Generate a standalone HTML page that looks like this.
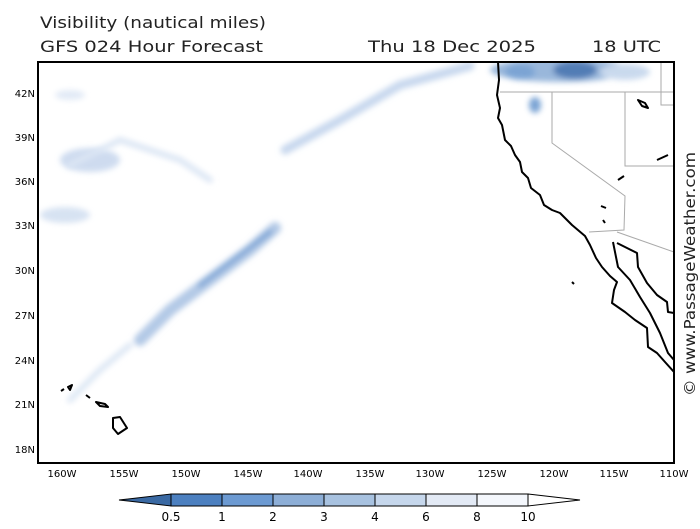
<!DOCTYPE html>
<html><head><style>
body{margin:0;background:#fff;width:700px;height:525px;overflow:hidden;font-family:"DejaVu Sans","Liberation Sans",sans-serif}
</style></head><body>
<svg width="700" height="525" xmlns="http://www.w3.org/2000/svg" font-family="DejaVu Sans, Liberation Sans, sans-serif">
<defs><filter id="b" x="-50%" y="-50%" width="200%" height="200%"><feGaussianBlur stdDeviation="3"/></filter>
<clipPath id="c"><rect x="38" y="62" width="636" height="401"/></clipPath></defs>
<g font-size="16" fill="#222">
<text x="40" y="28" textLength="226" lengthAdjust="spacingAndGlyphs">Visibility (nautical miles)</text>
<text x="40" y="52" textLength="223" lengthAdjust="spacingAndGlyphs">GFS 024 Hour Forecast</text>
<text x="368" y="52" textLength="168" lengthAdjust="spacingAndGlyphs">Thu 18 Dec 2025</text>
<text x="592" y="52" textLength="69" lengthAdjust="spacingAndGlyphs">18 UTC</text>
</g>
<g clip-path="url(#c)">
<g filter="url(#b)" opacity="0.9">
<ellipse cx="560" cy="70" rx="70" ry="12" fill="#8fb0d8"/>
<ellipse cx="575" cy="70" rx="22" ry="9" fill="#3f6fae"/>
<ellipse cx="520" cy="72" rx="15" ry="8" fill="#6e9bd0"/>
<ellipse cx="535" cy="105" rx="6" ry="8" fill="#6e9bd0"/>
<ellipse cx="625" cy="72" rx="25" ry="8" fill="#c4d6ec"/>
<ellipse cx="90" cy="160" rx="30" ry="12" fill="#c9d8ee"/>
<ellipse cx="65" cy="215" rx="25" ry="8" fill="#d3e0f1"/>
<ellipse cx="70" cy="95" rx="15" ry="5" fill="#dfe8f5"/>
</g>
<g filter="url(#b)" fill="none" stroke-linecap="round">
<path d="M285 150 L340 120 L400 85 L470 66" stroke="#c8d8ee" stroke-width="9"/>
<path d="M140 340 L170 310 L210 280 L250 250 L275 228" stroke="#b3c9e6" stroke-width="12"/>
<path d="M200 285 L240 255 L270 232" stroke="#7fa6d6" stroke-width="5"/>
<path d="M70 400 L100 370 L130 345" stroke="#dde7f4" stroke-width="6"/>
<path d="M70 165 L120 140 L180 160 L210 180" stroke="#dce6f4" stroke-width="6"/>
</g>
<g fill="none" stroke="#aaa" stroke-width="1">
<path d="M500 92 L674 92 M552 92 L552 143 L625 196 L624 230 L589 232 M625 92 L625 166 L674 166 M661 62 L661 105 L674 105 M617 232 L674 252"/>
</g>
<g fill="none" stroke="#000" stroke-width="2" stroke-linejoin="round">
<path d="M498 62 L499 80 L497 95 L500 108 L498 118 L502 125 L505 140 L511 146 L515 155 L520 162 L522 172 L528 178 L531 188 L540 195 L544 205 L552 210 L560 213 L572 225 L585 236 L590 245 L596 258 L602 267 L610 276 L617 282 L614 290 L612 303 L625 312 L635 320 L647 328 L648 347 L657 353 L665 362 L674 372"/>
<path d="M613 242 L618 267 L630 280 L640 297 L650 313 L660 333 L668 353 L674 360"/>
<path d="M617 243 L627 248 L637 253 L638 267 L647 283 L657 295 L667 302 L668 312 L674 313"/>
<path d="M61 391 L64 389 M68 387 L72 385 L70 390 Z M86 395 L90 398 M96 402 L105 404 L108 407 L100 406 Z M113 418 L120 417 L127 428 L118 434 L113 428 Z"/>
<path d="M638 100 L645 103 L648 108 L642 106 Z M603 220 L605 223 M572 282 L574 284 M618 180 L624 176 M657 160 L668 155 M601 206 L606 208"/>
</g>
</g>
<rect x="38" y="62" width="636" height="401" fill="none" stroke="#000" stroke-width="2"/>
<g font-size="10" fill="#000" text-anchor="end">
<text x="35" y="97">42N</text><text x="35" y="141">39N</text><text x="35" y="185">36N</text><text x="35" y="229">33N</text><text x="35" y="274">30N</text><text x="35" y="319">27N</text><text x="35" y="364">24N</text><text x="35" y="408">21N</text><text x="35" y="453">18N</text>
</g>
<g font-size="10" fill="#000" text-anchor="middle">
<text x="62" y="477">160W</text><text x="124" y="477">155W</text><text x="186" y="477">150W</text><text x="248" y="477">145W</text><text x="308" y="477">140W</text><text x="370" y="477">135W</text><text x="430" y="477">130W</text><text x="492" y="477">125W</text><text x="554" y="477">120W</text><text x="614" y="477">115W</text><text x="674" y="477">110W</text>
</g>
<text transform="translate(695,396) rotate(-90)" font-size="15" fill="#222" textLength="244" lengthAdjust="spacingAndGlyphs">© www.PassageWeather.com</text>
<g stroke="#000" stroke-width="1">
<polygon points="119,500 171,494 171,506" fill="#3a69a3"/>
<rect x="171" y="494" width="51" height="12" fill="#4c80c0"/>
<rect x="222" y="494" width="51" height="12" fill="#6c9ad2"/>
<rect x="273" y="494" width="51" height="12" fill="#8daed6"/>
<rect x="324" y="494" width="51" height="12" fill="#a8c2e0"/>
<rect x="375" y="494" width="51" height="12" fill="#c6d7ec"/>
<rect x="426" y="494" width="51" height="12" fill="#e3eaf5"/>
<rect x="477" y="494" width="51" height="12" fill="#f4f7fc"/>
<polygon points="528,494 580,500 528,506" fill="#fff"/>
</g>
<g font-size="12" fill="#000" text-anchor="middle">
<text x="171" y="521">0.5</text><text x="222" y="521">1</text><text x="273" y="521">2</text><text x="324" y="521">3</text><text x="375" y="521">4</text><text x="426" y="521">6</text><text x="477" y="521">8</text><text x="528" y="521">10</text>
</g>
</svg>
</body></html>
